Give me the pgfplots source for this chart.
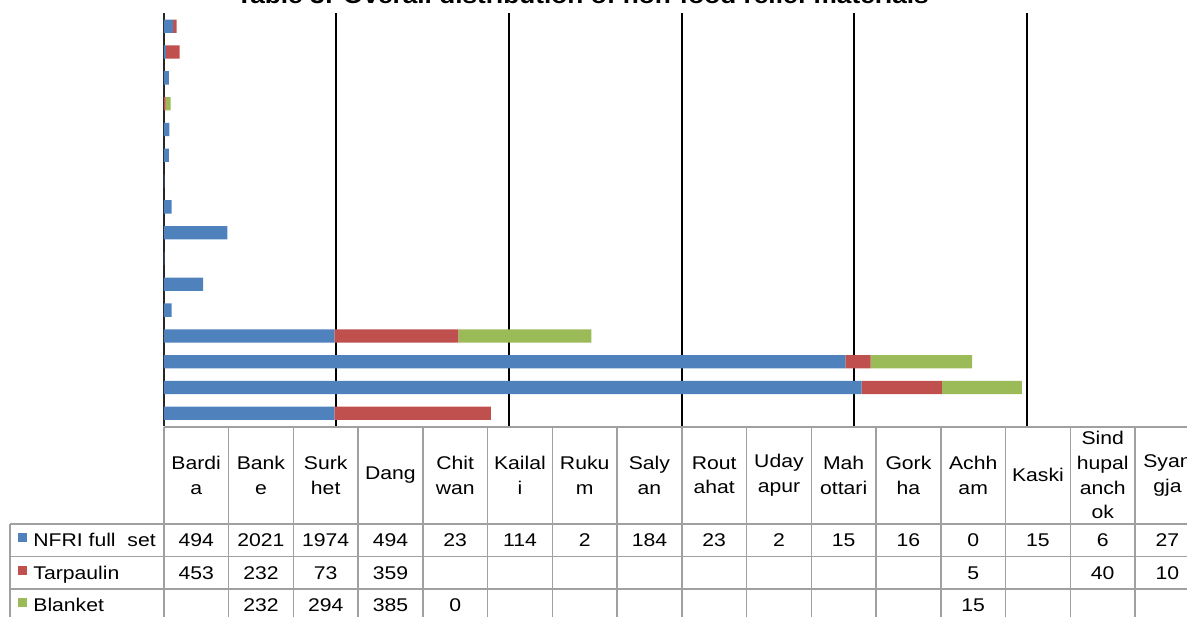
\documentclass[border=0pt]{standalone}
\usepackage{fontspec}
\setmainfont{Liberation Sans}
\newfontfamily\tabfamily{Liberation Sans}[FakeStretch=1.15]
\usepackage{pgfplots}
\pgfplotsset{compat=1.18}
\definecolor{nblue}{HTML}{4F81BD}
\definecolor{nred}{HTML}{C0504D}
\definecolor{ngreen}{HTML}{9BBB59}
\definecolor{tline}{HTML}{A0A0A0}
\newcommand\tabfont{\tabfamily\fontsize{9.2}{12.3}\selectfont}
\newcommand\titlefont{\tabfamily\bfseries\fontsize{11.4}{13}\selectfont}
\begin{document}
\begin{tikzpicture}[x=0.5pt,y=0.5pt]
\useasboundingbox (0,0) rectangle (1187,616);
\begin{axis}[
  at={(81.9pt,94.9pt)}, anchor=south west,
  scale only axis, width=518pt, height=206.4pt,
  xbar stacked, bar width=6.65pt,
  xmin=0, xmax=3000, ymin=-0.5, ymax=15.5,
  axis line style={draw=none},
  xtick={500,1000,1500,2000,2500,3000}, xticklabels={}, scaled x ticks=false,
  ytick=\empty, major tick length=0pt,
  xmajorgrids, grid style={black, line width=1pt},
  clip=false,
]
\addplot[fill=nblue, draw=none] coordinates {(494,0) (2021,1) (1974,2) (494,3) (23,4) (114,5) (2,6) (184,7) (23,8) (2,9) (15,10) (16,11) (0,12) (15,13) (6,14) (27,15)};
\addplot[fill=nred, draw=none] coordinates {(453,0) (232,1) (73,2) (359,3) (0,4) (0,5) (0,6) (0,7) (0,8) (0,9) (0,10) (0,11) (5,12) (0,13) (40,14) (10,15)};
\addplot[fill=ngreen, draw=none] coordinates {(0,0) (232,1) (294,2) (385,3) (0,4) (0,5) (0,6) (0,7) (0,8) (0,9) (0,10) (0,11) (15,12) (0,13) (0,14) (0,15)};
\draw[black!85, line width=0.75pt] (axis cs:0,-0.5) -- (axis cs:0,15.5);
\end{axis}
% title
\node[anchor=base, font=\titlefont, inner sep=0pt] at (582.5,612) {Table 3: Overall distribution of non-food relief materials};
% table grid
\begin{scope}[draw=tline, line width=0.8pt]
\draw (163.8,189.3) -- (1199.8,189.3);
\draw (10,92) -- (1199.8,92);
\draw (10,59.5) -- (1199.8,59.5);
\draw (10,27) -- (1199.8,27);
\draw (10,-5.5) -- (1199.8,-5.5);
\draw (10,92) -- (10,-5.5);
\foreach \k in {0,...,16} { \draw ({163.8+64.75*\k},189.3) -- ({163.8+64.75*\k},-5.5); }
\end{scope}
% header labels
\foreach \lab [count=\i from 0] in {{Bardi\\a},{Bank\\e},{Surk\\het},{Dang},{Chit\\wan},{Kailal\\i},{Ruku\\m},{Saly\\an},{Rout\\ahat},{Uday\\apur},{Mah\\ottari},{Gork\\ha},{Achh\\am},{Kaski},{Sind\\hupal\\anch\\ok},{Syan\\gja}} {
  \node[align=center, font=\tabfont, inner sep=0pt] at ({196.175+64.75*\i},140.7) {\lab};
}
% row headers
\fill[nblue] (18,74) rectangle (27,83);
\fill[nred] (18,41.25) rectangle (27,50.25);
\fill[ngreen] (18,8.75) rectangle (27,17.75);
\node[anchor=base west, font=\tabfont, inner sep=0pt] at (33,69.4) {NFRI full\ \ set};
\node[anchor=base west, font=\tabfont, inner sep=0pt] at (33,36.9) {Tarpaulin};
\node[anchor=base west, font=\tabfont, inner sep=0pt] at (33,4.4) {Blanket};
% values
\foreach \i/\v in {0/494,1/2021,2/1974,3/494,4/23,5/114,6/2,7/184,8/23,9/2,10/15,11/16,12/0,13/15,14/6,15/27} {
  \node[anchor=base, font=\tabfont, inner sep=0pt] at ({196.175+64.75*\i},69.4) {\v};
}
\foreach \i/\v in {0/453,1/232,2/73,3/359,12/5,14/40,15/10} {
  \node[anchor=base, font=\tabfont, inner sep=0pt] at ({196.175+64.75*\i},36.9) {\v};
}
\foreach \i/\v in {1/232,2/294,3/385,4/0,12/15} {
  \node[anchor=base, font=\tabfont, inner sep=0pt] at ({196.175+64.75*\i},4.4) {\v};
}
\end{tikzpicture}
\end{document}
